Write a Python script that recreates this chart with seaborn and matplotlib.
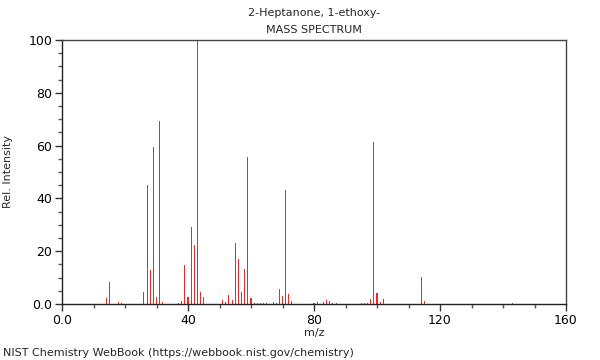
import matplotlib
matplotlib.use("Agg")
import matplotlib.pyplot as plt
import seaborn as sns
import pandas as pd
from matplotlib.ticker import MultipleLocator, FixedLocator

title_line1 = "2-Heptanone, 1-ethoxy-"
title_line2 = "MASS SPECTRUM"
footer = "NIST Chemistry WebBook (https://webbook.nist.gov/chemistry)"

mz = [14, 15, 18, 19, 26, 27, 28, 29, 30, 31, 32, 37, 38, 39, 40, 41, 42, 43, 44, 45,
      51, 52, 53, 54, 55, 56, 57, 58, 59, 60, 61, 62, 63, 64, 65, 67, 68, 69, 70, 71,
      72, 73, 80, 81, 83, 84, 85, 86, 87, 95, 96, 97, 98, 99, 100, 101, 102, 114, 115, 143]
intensity = [2.4, 8.5, 0.7, 0.5, 4.4, 45.0, 12.9, 59.3, 2.5, 69.3, 0.7, 0.5, 1.0, 14.6, 2.8, 29.3, 22.3, 100.0, 4.4, 2.5,
             1.7, 0.8, 3.3, 1.6, 23.2, 17.0, 4.4, 13.3, 55.8, 2.4, 0.5, 0.3, 0.3, 0.3, 0.3, 0.7, 0.4, 5.7, 3.2, 43.2,
             3.8, 1.0, 0.3, 0.8, 0.8, 1.5, 1.0, 0.4, 0.3, 0.4, 0.4, 0.3, 2.0, 61.4, 4.3, 0.6, 2.0, 10.4, 1.3, 0.2]

x_ticks = [0, 40, 80, 120, 160]
x_tick_labels = ["0.0", "40", "80", "120", "160"]
y_ticks = [0, 20, 40, 60, 80, 100]
y_tick_labels = ["0.0", "20", "40", "60", "80", "100"]

df = pd.DataFrame({"mz": mz, "intensity": intensity})

sns.set_style("white")
plt.rcParams["font.family"] = ["DejaVu Sans"]

fig = plt.figure(figsize=(6, 3.6), dpi=100)
ax = fig.add_axes([62 / 600, 56 / 360, 504 / 600, 264 / 360])

sns.barplot(data=df, x="mz", y="intensity", native_scale=True, color="#ff2020",
            saturation=1, width=0.33, linewidth=0, ax=ax)

ax.set_xlim(0, 160)
ax.set_ylim(0, 100)
ax.xaxis.set_major_locator(FixedLocator(x_ticks))
ax.set_xticklabels(x_tick_labels)
ax.xaxis.set_minor_locator(MultipleLocator(10))
ax.yaxis.set_major_locator(FixedLocator(y_ticks))
ax.set_yticklabels(y_tick_labels)
ax.yaxis.set_minor_locator(MultipleLocator(5))

ax.tick_params(axis="both", which="major", direction="out", length=5, width=1,
               color="#333333", labelsize=9, labelcolor="black", pad=2,
               bottom=True, left=True)
ax.tick_params(axis="both", which="minor", direction="out", length=3, width=1,
               color="#555555", bottom=True, left=True)

for s in ["left", "bottom"]:
    ax.spines[s].set_color("#222222")
    ax.spines[s].set_linewidth(1)
for s in ["top", "right"]:
    ax.spines[s].set_color("#444444")
    ax.spines[s].set_linewidth(1)

ax.set_xlabel("m/z", fontsize=8, labelpad=1)
ax.set_ylabel("Rel. Intensity", fontsize=8, labelpad=11)

fig.text(314 / 600, 1 - 13 / 360, title_line1, ha="center", va="center", fontsize=8)
fig.text(314 / 600, 1 - 30 / 360, title_line2, ha="center", va="center", fontsize=8)
fig.text(3 / 600, 1 - 353 / 360, footer, ha="left", va="center", fontsize=8)

fig.savefig("out.png", dpi=100)
